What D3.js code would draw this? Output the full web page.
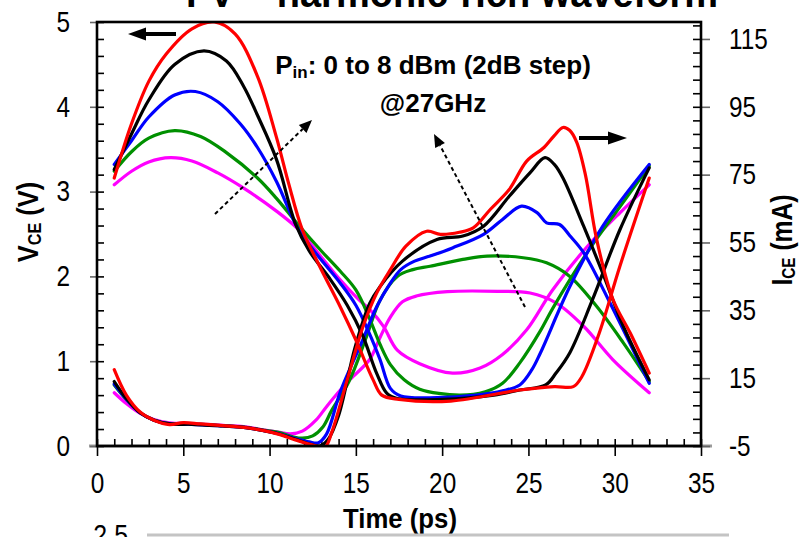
<!DOCTYPE html>
<html>
<head>
<meta charset="utf-8">
<script src="https://cdn.jsdelivr.net/npm/d3@7"></script>
<style>
  html, body { margin: 0; padding: 0; background: #fff; }
  svg { display: block; font-family: "Liberation Sans", Arial, Helvetica, sans-serif; }
</style>
</head>
<body>
<svg id="chart" width="800" height="537"></svg>
<script>
// ---- Input drive levels and trace colours ----
const powerLevels = ["0 dBm", "2 dBm", "4 dBm", "6 dBm", "8 dBm"];
const traceColors = ["#ff00ff", "#009000", "#0000ff", "#000000", "#ff0000"];

// ---- Axis tick values ----
const timeTicks = [0, 5, 10, 15, 20, 25, 30, 35];
const vceTicks = [0, 1, 2, 3, 4, 5];
const iceTicks = [-5, 15, 35, 55, 75, 95, 115];

// ---- Collector-emitter voltage, [time (ps), VCE (V)] ----
const vce0 = [[1,3.08],[2,3.24],[3,3.35],[4.25,3.40],[5.5,3.36],[7,3.22],[8.5,3.04],[10.4,2.77],[11.7,2.55],[12.6,2.33],[14,1.98],[15.2,1.72],[15.8,1.61],[16.6,1.41],[17.4,1.13],[18.7,0.97],[20.6,0.86],[22.2,0.92],[23.5,1.08],[24.9,1.37],[26.4,1.84],[28.4,2.35],[30.3,2.75],[32,3.08]];
const vce2 = [[1,3.24],[2,3.47],[3,3.63],[4.5,3.72],[6,3.65],[7.5,3.46],[9.3,3.16],[10.4,2.92],[11.7,2.6],[13,2.3],[14.1,2.06],[15,1.84],[15.8,1.5],[16.4,1.2],[17,0.96],[17.8,0.78],[18.7,0.67],[21,0.60],[22.5,0.64],[23.5,0.74],[24.5,0.98],[25.7,1.36],[26.4,1.62],[28.4,2.28],[30.3,2.82],[32,3.30]];
const vce4 = [[1,3.32],[2,3.6],[3,3.88],[4.5,4.14],[5.7,4.18],[7,4.06],[8.3,3.8],[9.3,3.52],[10.4,3.12],[11.6,2.58],[12.5,2.32],[13.3,2.12],[14.1,1.92],[15,1.66],[15.8,1.32],[16.4,1.02],[17,0.68],[17.6,0.59],[19.7,0.57],[22,0.60],[23.5,0.65],[24.5,0.72],[25.2,0.9],[25.7,1.1],[27.4,1.88],[29.3,2.59],[32,3.32]];
const vce6 = [[1,3.26],[2,3.68],[3,4.08],[4.5,4.5],[6.2,4.66],[7.5,4.54],[8.5,4.24],[9.3,3.9],[10.4,3.38],[11.5,2.62],[12.3,2.3],[13.5,1.97],[14.5,1.66],[15.4,1.3],[16.2,0.86],[16.8,0.62],[17.4,0.56],[20,0.55],[23,0.6],[24.5,0.66],[26,0.72],[26.6,0.86],[27.4,1.1],[28.7,1.72],[30.3,2.55],[32,3.28]];
const vce8 = [[1,3.16],[2,3.8],[3,4.3],[4,4.62],[5.5,4.92],[6.8,5.0],[8,4.86],[9.3,4.36],[10.4,3.64],[11.1,3.1],[11.9,2.55],[12.9,2.12],[14.1,1.64],[15,1.25],[16,0.78],[16.5,0.6],[17.5,0.55],[20.5,0.53],[24.5,0.66],[26.5,0.70],[27.6,0.70],[28.1,0.82],[29.1,1.33],[30.3,2.12],[32,3.16]];

// ---- Collector current, [time (ps), ICE (mA)] ----
const ice0 = [[1,10.7],[1.7,7.5],[2.5,4.6],[3.3,2.8],[4.2,1.8],[5.5,1.6],[7.3,1.1],[8.5,0.7],[9.6,-0.2],[10.5,-0.9],[11.2,-1.4],[11.9,-0.6],[12.7,2.7],[13.3,6.6],[14.1,11.5],[14.7,14.8],[15.8,20.5],[16.4,27],[17,33],[17.7,37.5],[18.5,39.2],[20.3,40.5],[23.2,40.6],[25.1,40.1],[26.6,37.2],[28.2,30.3],[29.9,20.4],[32,10.7]];
const ice2 = [[1,13],[1.7,8.7],[2.5,4.8],[3.3,2.7],[4.2,1.6],[5.5,1.5],[7.3,1.0],[8.5,0.6],[9.6,-0.3],[10.5,-1.0],[11.3,-2.2],[11.9,-2.7],[12.5,-2],[13.1,0.7],[13.6,5.5],[14.6,14],[15.6,27],[16.4,38],[17.4,45],[18.3,47],[19.3,48],[21.2,50],[22.6,51],[24.7,50.5],[26.05,49],[27.4,45],[28.95,36.2],[30.5,25.4],[32,14]];
const ice4 = [[1,13.3],[1.7,8.8],[2.5,4.8],[3.3,2.6],[4.2,1.5],[5.5,1.4],[7.3,0.9],[8.5,0.5],[9.6,-0.4],[10.5,-1.3],[11.5,-2.8],[12.3,-3.8],[12.8,-4.1],[13.3,-1.5],[14.1,11],[15.4,26.3],[16.2,36],[17,43],[17.6,47],[18.4,49.5],[19.3,51],[20.6,53.4],[22.4,57.4],[23.5,61.8],[24.6,65.7],[25.5,63.8],[26.05,60.8],[26.8,60.3],[27.4,57],[28.2,52],[29.6,38.5],[32,13.5]];
const ice6 = [[1,14],[1.7,9],[2.5,4.8],[3.3,2.6],[4.2,1.5],[5.5,1.4],[7.3,0.9],[8.5,0.5],[9.6,-0.4],[10.5,-1.4],[11.5,-3],[12.3,-4.4],[12.9,-5],[13.4,-3],[14,4],[14.95,24],[15.8,37],[16.4,42],[17.7,49.5],[19.7,55.9],[21.2,56.9],[22.4,59.8],[23.9,68.7],[25.1,75.6],[25.96,80],[26.5,78],[27,74],[28.2,59.8],[29.3,46],[30.5,30.3],[32,14.5]];
const ice8 = [[1,17.5],[1.7,10],[2.5,5],[3.3,2.6],[4.2,1.3],[5,1.9],[6,1.5],[7.3,1.0],[8.5,0.5],[9.6,-0.4],[10.5,-1.5],[11.5,-3.2],[12.4,-4.6],[13.2,-5.3],[13.6,-1],[14.5,14.5],[15.4,30],[16.2,40],[17,47],[17.9,53.9],[19.1,58.3],[19.9,57.4],[21,58],[21.8,59.3],[22.8,64.8],[23.9,70.7],[24.9,79],[25.9,83],[26.5,86.5],[27,88.9],[27.4,88],[27.8,84.5],[28.3,75],[28.95,56],[29.9,38.2],[30.9,28.3],[32,16.5]];

const vceSeries = [vce0, vce2, vce4, vce6, vce8];
const iceSeries = [ice0, ice2, ice4, ice6, ice8];

// ---- Layout ----
const svg = d3.select("#chart");
const plot = { left: 97, right: 701, top: 22, bottom: 446 };
const FONT = '"Liberation Sans", Arial, Helvetica, sans-serif';

const x = d3.scaleLinear().domain([0, 35]).range([plot.left, plot.right]);
const yV = d3.scaleLinear().domain([0, 5]).range([plot.bottom, plot.top]);
const yI = d3.scaleLinear().domain([-5, 120]).range([plot.bottom, plot.top]);

// Top title, mostly above the visible area
svg.append("text")
  .attr("transform", "translate(452,7) scale(0.95,1)")
  .attr("text-anchor", "middle")
  .attr("font-size", 40).attr("font-weight", "bold")
  .text("I-V – harmonic-rich waveform");

// Clip for the traces
svg.append("defs").append("clipPath").attr("id", "plotClip")
  .append("rect")
  .attr("x", plot.left).attr("y", plot.top)
  .attr("width", plot.right - plot.left).attr("height", plot.bottom - plot.top);

// Narrow the tick labels horizontally about their own anchor
function narrowLabels(g, s) {
  g.selectAll(".tick text").each(function () {
    const t = d3.select(this);
    const tx = +t.attr("x") || 0;
    t.attr("x", 0).attr("transform", `translate(${tx},0) scale(${s},1)`);
  });
}
function finishAxis(g, labelSize) {
  g.select(".domain").remove();
  g.selectAll(".tick line").attr("stroke", "#000").attr("stroke-width", 1.6);
  g.selectAll(".tick text").attr("fill", "#000").attr("font-size", labelSize).attr("font-family", FONT);
}
const plainNumber = d => String(d);

// Gray base line under the x axis
svg.append("line")
  .attr("x1", plot.left - 8).attr("x2", plot.right + 11)
  .attr("y1", plot.bottom).attr("y2", plot.bottom)
  .attr("stroke", "#9a9a9a").attr("stroke-width", 3);

// Bottom axis: outward major ticks with labels, inward minor ticks every 1 ps
const gxMajor = svg.append("g").attr("transform", `translate(0,${plot.bottom})`)
  .call(d3.axisBottom(x).tickValues(timeTicks).tickSize(10).tickPadding(16).tickFormat(plainNumber));
finishAxis(gxMajor, 29); narrowLabels(gxMajor, 0.84);
const gxMinor = svg.append("g").attr("transform", `translate(0,${plot.bottom})`)
  .call(d3.axisTop(x).tickValues(d3.range(0, 36, 1)).tickSize(7).tickFormat(""));
finishAxis(gxMinor, 28);

// Left axis (VCE)
const gyMajor = svg.append("g").attr("transform", `translate(${plot.left},0)`)
  .call(d3.axisLeft(yV).tickValues(vceTicks).tickSize(7).tickPadding(20).tickFormat(plainNumber));
finishAxis(gyMajor, 29); narrowLabels(gyMajor, 0.84);
gyMajor.selectAll(".tick line").attr("stroke", "#666");
const gyMinor = svg.append("g").attr("transform", `translate(${plot.left},0)`)
  .call(d3.axisRight(yV).tickValues(d3.range(0, 26).map(i => i * 0.2)).tickSize(7).tickFormat(""));
finishAxis(gyMinor, 28);

// Right axis (ICE)
const gyrMajor = svg.append("g").attr("transform", `translate(${plot.right},0)`)
  .call(d3.axisRight(yI).tickValues(iceTicks).tickSize(9).tickPadding(19).tickFormat(plainNumber));
finishAxis(gyrMajor, 29); narrowLabels(gyrMajor, 0.84);
gyrMajor.selectAll(".tick line").attr("stroke", "#666");
const gyrMinor = svg.append("g").attr("transform", `translate(${plot.right},0)`)
  .call(d3.axisLeft(yI).tickValues(d3.range(0, 32).map(i => -5 + 4 * i)).tickSize(8).tickFormat(""));
finishAxis(gyrMinor, 28);

// Traces
const traces = svg.append("g").attr("clip-path", "url(#plotClip)");
const lineV = d3.line().x(d => x(d[0])).y(d => yV(d[1])).curve(d3.curveCatmullRom.alpha(0.5));
const lineI = d3.line().x(d => x(d[0])).y(d => yI(d[1])).curve(d3.curveCatmullRom.alpha(0.5));
powerLevels.forEach((p, i) => {
  traces.append("path").datum(iceSeries[i])
    .attr("d", lineI).attr("fill", "none")
    .attr("stroke", traceColors[i]).attr("stroke-width", 3.2)
    .attr("stroke-linejoin", "round").attr("stroke-linecap", "round");
  traces.append("path").datum(vceSeries[i])
    .attr("d", lineV).attr("fill", "none")
    .attr("stroke", traceColors[i]).attr("stroke-width", 3.2)
    .attr("stroke-linejoin", "round").attr("stroke-linecap", "round");
});

// Plot frame
svg.append("rect")
  .attr("x", plot.left).attr("y", plot.top)
  .attr("width", plot.right - plot.left).attr("height", plot.bottom - plot.top)
  .attr("fill", "none").attr("stroke", "#000").attr("stroke-width", 2.6);

// Arrow helpers
function solidArrow(x1, y1, x2, y2, headLen, headHalf) {
  const ang = Math.atan2(y2 - y1, x2 - x1);
  const bx = x2 - headLen * Math.cos(ang), by = y2 - headLen * Math.sin(ang);
  svg.append("line").attr("x1", x1).attr("y1", y1).attr("x2", bx).attr("y2", by)
    .attr("stroke", "#000").attr("stroke-width", 4);
  const px = -Math.sin(ang), py = Math.cos(ang);
  svg.append("path")
    .attr("d", `M${x2},${y2}L${bx + px * headHalf},${by + py * headHalf}L${bx - px * headHalf},${by - py * headHalf}Z`)
    .attr("fill", "#000");
}
function dashedArrow(x1, y1, x2, y2) {
  const ang = Math.atan2(y2 - y1, x2 - x1);
  const headLen = 13, headHalf = 5.5;
  const bx = x2 - headLen * Math.cos(ang), by = y2 - headLen * Math.sin(ang);
  svg.append("line").attr("x1", x1).attr("y1", y1).attr("x2", bx).attr("y2", by)
    .attr("stroke", "#000").attr("stroke-width", 2).attr("stroke-dasharray", "4,3");
  const px = -Math.sin(ang), py = Math.cos(ang);
  svg.append("path")
    .attr("d", `M${x2},${y2}L${bx + px * headHalf},${by + py * headHalf}L${bx - px * headHalf},${by - py * headHalf}Z`)
    .attr("fill", "#000");
}

// Axis-ownership arrows
solidArrow(176, 34, 128, 34, 18, 6.5);
solidArrow(579, 138, 627, 138, 19, 6.5);
// Increasing-drive arrows
dashedArrow(215, 214, 312, 120);
dashedArrow(525, 307, 434, 134);

// Annotation
const ann = svg.append("text")
  .attr("x", 433).attr("y", 74)
  .attr("text-anchor", "middle")
  .attr("font-size", 26).attr("font-weight", "bold");
ann.append("tspan").text("P");
ann.append("tspan").attr("font-size", 17).attr("dy", 4).text("in");
ann.append("tspan").attr("dy", -4).text(": 0 to 8 dBm (2dB step)");
svg.append("text")
  .attr("x", 433).attr("y", 112)
  .attr("text-anchor", "middle")
  .attr("font-size", 26).attr("font-weight", "bold")
  .text("@27GHz");

// Axis titles
const vTitle = svg.append("text")
  .attr("transform", "translate(38,222) rotate(-90) scale(0.85,1)")
  .attr("text-anchor", "middle")
  .attr("font-size", 30).attr("font-weight", "bold");
vTitle.append("tspan").text("V");
vTitle.append("tspan").attr("font-size", 19).attr("dy", 3).text("CE");
vTitle.append("tspan").attr("dy", -3).text(" (V)");

const iTitle = svg.append("text")
  .attr("transform", "translate(792,240) rotate(-90) scale(0.85,1)")
  .attr("text-anchor", "middle")
  .attr("font-size", 29).attr("font-weight", "bold");
iTitle.append("tspan").text("I");
iTitle.append("tspan").attr("font-size", 18).attr("dy", 3).text("CE");
iTitle.append("tspan").attr("dy", -3).text(" (mA)");

svg.append("text")
  .attr("transform", "translate(400,528) scale(0.92,1)")
  .attr("text-anchor", "middle")
  .attr("font-size", 28).attr("font-weight", "bold")
  .text("Time (ps)");

// Start of the next panel below
svg.append("text")
  .attr("transform", "translate(128,545) scale(0.86,1)")
  .attr("text-anchor", "end")
  .attr("font-size", 29)
  .text("2.5");
svg.append("line")
  .attr("x1", 147).attr("x2", 729).attr("y1", 535).attr("y2", 535)
  .attr("stroke", "#c4c4c4").attr("stroke-width", 3);
</script>
</body>
</html>
